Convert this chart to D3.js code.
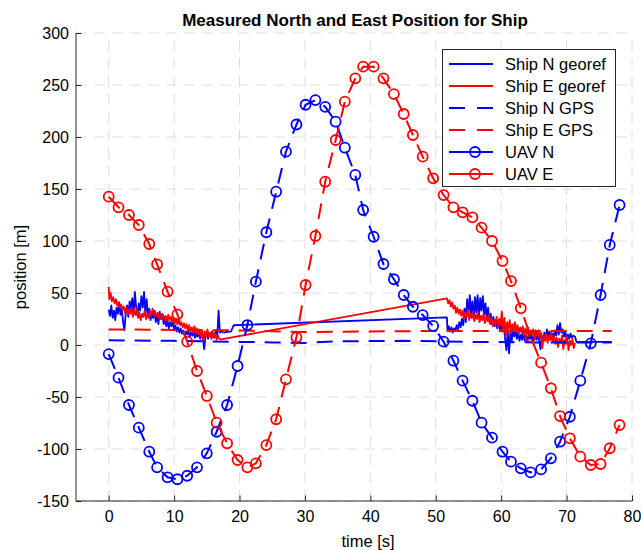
<!DOCTYPE html>
<html>
<head>
<meta charset="utf-8">
<script src="https://cdn.jsdelivr.net/npm/d3@7"></script>
<style>
  html, body { margin: 0; padding: 0; background: #fff; }
  svg { display: block; font-family: "Liberation Sans", Arial, Helvetica, sans-serif; }
</style>
</head>
<body>
<svg id="chart" width="641" height="550"></svg>
<script>
// ---------------- DATA ----------------
const chartTitle = "Measured North and East Position for Ship";
const xLabel = "time [s]";
const yLabel = "position [m]";
const xTicks = [0, 10, 20, 30, 40, 50, 60, 70, 80];
const yTicks = [-150, -100, -50, 0, 50, 100, 150, 200, 250, 300];
const seriesNames = ["Ship N georef", "Ship E georef", "Ship N GPS", "Ship E GPS", "UAV N", "UAV E"];

// Ship N georef  [time, value]
const shipNGeoref = [
  [0.0,34],[0.2,28],[0.4,38],[0.6,26],[0.8,33],[1.0,24],[1.2,36],[1.4,30],[1.6,41],[1.8,29],
  [2.0,35],[2.2,22],[2.4,14],[2.6,30],[2.8,38],[3.0,27],[3.2,42],[3.4,33],[3.6,45],[3.8,30],
  [4.0,51],[4.2,36],[4.4,28],[4.6,40],[4.8,33],[5.0,47],[5.2,36],[5.4,51],[5.6,30],[5.8,44],
  [6.0,28],[6.2,35],[6.4,24],[6.6,31],[6.8,26],[7.0,33],[7.2,22],[7.4,29],[7.6,20],[7.8,32],
  [8.0,25],[8.2,30],[8.4,20],[8.6,26],[8.8,18],[9.0,24],[9.2,16],[9.4,22],[9.6,18],[9.8,23],
  [10.0,15],[10.2,19],[10.4,13],[10.6,17],[10.8,12],[11.0,16],[11.2,11],[11.4,14],[11.6,9],[11.8,13],
  [12.0,10],[12.2,14],[12.4,8],[12.6,12],[12.8,9],[13.0,13],[13.2,7],[13.4,11],[13.6,8],[13.8,12],
  [14.0,6],[14.2,10],[14.4,7],[14.6,-4],[14.8,9],[15.0,12],[15.2,6],[15.4,11],[15.6,8],[15.8,13],
  [16.0,7],[16.2,10],[16.4,14],[16.6,9],[16.8,33],[17.0,12],[17.2,13],[17.6,12],[18.0,12.5],[18.7,13],
  [19.1,19],[51.7,26.6],
  [51.8,14],[52.0,18],[52.2,13],[52.4,17],[52.6,12],[52.8,16],[53.0,14],[53.2,19],[53.4,15],[53.6,22],
  [53.8,17],[54.0,25],[54.2,19],[54.4,35],[54.6,22],[54.8,44],[55.0,28],[55.2,48],[55.4,30],[55.6,42],
  [55.8,25],[56.0,46],[56.2,31],[56.4,48],[56.6,27],[56.8,45],[57.0,33],[57.2,47],[57.4,29],[57.6,40],
  [57.8,24],[58.0,36],[58.2,22],[58.4,30],[58.6,20],[58.8,27],[59.0,18],[59.2,24],[59.4,16],[59.6,22],
  [59.8,15],[60.0,20],[60.2,13],[60.4,18],[60.6,6],[60.8,-5],[61.0,14],[61.2,-8],[61.4,12],[61.6,3],
  [61.8,16],[62.0,8],[62.2,14],[62.4,6],[62.6,12],[62.8,4],[63.0,10],[63.2,5],[63.4,13],[63.6,4],
  [63.8,9],[64.0,3],[64.2,11],[64.4,6],[64.6,12],[64.8,3],[65.0,8],[65.2,14],[65.4,5],[65.6,10],
  [65.8,4],[66.0,-4],[66.2,9],[66.4,5],[66.6,12],[66.8,7],[67.0,15],[67.2,8],[67.4,13],[67.6,5],
  [67.8,11],[68.0,7],[68.2,14],[68.4,9],[68.6,19],[68.8,10],[69.0,21],[69.2,12],[69.4,15],[69.6,8],
  [69.8,13],[70.0,5],[70.2,10],[70.4,6],[70.6,11],[70.8,7],[71.0,9],[71.3,8],[71.5,3],[76.9,3]
];

// Ship E georef  [time, value]
const shipEGeoref = [
  [0.0,56],[0.1,44],[0.3,50],[0.5,42],[0.7,46],[0.9,40],[1.1,44],[1.3,38],[1.5,41],[1.7,36],
  [1.9,39],[2.1,34],[2.3,37],[2.5,31],[2.7,36],[2.9,29],[3.1,34],[3.3,30],[3.5,36],[3.7,27],
  [3.9,33],[4.1,29],[4.3,35],[4.5,26],[4.7,31],[4.9,24],[5.1,30],[5.3,27],[5.5,33],[5.7,25],
  [5.9,30],[6.1,26],[6.3,33],[6.5,28],[6.7,35],[6.9,29],[7.1,32],[7.3,27],[7.5,31],[7.7,26],
  [7.9,30],[8.1,25],[8.3,29],[8.5,24],[8.7,28],[8.9,23],[9.1,29],[9.3,24],[9.5,27],[9.7,22],
  [9.9,26],[10.1,21],[10.3,25],[10.5,20],[10.7,24],[10.9,19],[11.1,22],[11.3,17],[11.5,21],[11.7,16],
  [11.9,20],[12.1,14],[12.3,19],[12.5,13],[12.7,17],[12.9,12],[13.1,18],[13.3,11],[13.5,16],[13.7,10],
  [13.9,15],[14.1,8],[14.3,14],[14.5,4],[14.7,13],[14.9,9],[15.1,15],[15.3,8],[15.5,12],[15.7,6],
  [15.9,13],[16.1,7],[16.3,11],[16.5,5],[16.7,9],[16.9,6],[17.2,5.5],[51.7,44.9],
  [51.9,40],[52.1,43],[52.3,37],[52.5,41],[52.7,35],[52.9,38],[53.1,31],[53.3,36],[53.5,30],[53.7,34],
  [53.9,28],[54.1,33],[54.3,25],[54.5,31],[54.7,27],[54.9,34],[55.1,24],[55.3,30],[55.5,26],[55.7,32],
  [55.9,23],[56.1,29],[56.3,25],[56.5,31],[56.7,22],[56.9,28],[57.1,24],[57.3,30],[57.5,21],[57.7,27],
  [57.9,23],[58.1,29],[58.3,20],[58.5,26],[58.7,18],[58.9,24],[59.1,20],[59.3,27],[59.5,17],[59.7,25],
  [59.9,19],[60.1,32],[60.3,14],[60.5,26],[60.7,8],[60.9,22],[61.1,15],[61.3,24],[61.5,12],[61.7,20],
  [61.9,14],[62.1,22],[62.3,13],[62.5,19],[62.7,11],[62.9,17],[63.1,12],[63.3,18],[63.5,9],[63.7,16],
  [63.9,11],[64.1,17],[64.3,8],[64.5,14],[64.7,10],[64.9,15],[65.1,7],[65.3,13],[65.5,9],[65.7,14],
  [65.9,6],[66.1,12],[66.3,-3],[66.5,10],[66.7,4],[66.9,11],[67.1,2],[67.3,9],[67.5,5],[67.7,12],
  [67.9,3],[68.1,8],[68.3,1],[68.5,7],[68.7,-2],[68.9,6],[69.1,2],[69.3,9],[69.5,-4],[69.7,5],
  [69.9,1],[70.1,8],[70.3,-5],[70.5,4],[70.7,0],[70.9,6],[71.1,-3],[71.3,2]
];

// Ship N GPS  [time, value]
const shipNGPS = [[0,4.5],[10,4],[20,3],[25,2.5],[30,2],[35,3.5],[45,4],[55,3],[65,2.5],[76.9,2.5]];
// Ship E GPS  [time, value]
const shipEGPS = [[0,15],[20,14],[30,12.5],[40,13],[50,13.5],[60,13.5],[76.9,13.5]];

// UAV samples
const uavTime = [0,1.5,3.1,4.6,6.2,7.4,9.0,10.5,12.0,13.5,15.0,16.5,18.1,19.7,21.2,22.5,24.1,25.6,27.1,28.7,
  30.1,31.6,33.1,34.7,36.1,37.7,38.9,40.5,42.0,43.6,45.1,46.5,48.0,49.6,51.2,52.7,54.1,55.6,57.0,58.6,
  60.2,61.5,63.0,64.5,66.1,67.6,69.0,70.5,72.1,73.7,75.2,76.6,78.1];
const uavN = [-8.7,-31.4,-57.7,-79.5,-102.6,-117.6,-127.2,-129.1,-125.7,-117.6,-104.2,-83.4,-57.7,-20.2,19.2,60.9,108.4,147.4,185.9,212,
  231,235.5,229,214.7,189.7,163.5,129.8,104.1,77.9,63.2,48.1,36.8,28.8,18.3,3.2,-15.1,-34.3,-53.6,-74.7,-89.1,
  -102.6,-112.2,-118.6,-122.5,-119.6,-109,-93,-69,-34.3,1.6,48.1,96.2,134.6];
const uavE = [142.6,132.4,125,115.4,97.1,77.6,51.3,29.5,3.2,-25,-49,-74.7,-94.5,-110.6,-117.6,-113.8,-96.2,-71.4,-33,7.4,
  57.7,104.8,157,197.1,234,256.4,267.6,267.6,256.4,241.3,222.1,201.9,181.1,160.3,144.2,132.4,127.6,122.8,112.8,100,
  80.8,61.5,35.3,8,-17,-41.6,-68.3,-89.7,-107.4,-115.4,-114.4,-99.3,-76.9];

// ---------------- CHART ----------------
const BLUE = "#0000ff", RED = "#ff0000", AX = "#262626";
const svg = d3.select("#chart");
const L = 76, R = 632, T = 33, B = 501;
const x = d3.scaleLinear().domain([-5, 80]).range([L, R]);
const y = d3.scaleLinear().domain([-150, 300]).range([B, T]);

// grid
const grid = svg.append("g").attr("stroke", "#dedede").attr("stroke-width", 1).attr("stroke-dasharray", "11,7").attr("fill", "none");
grid.selectAll("line.v").data(xTicks).join("line")
  .attr("x1", d => x(d)).attr("x2", d => x(d)).attr("y1", B).attr("y2", T);
grid.selectAll("line.h").data(yTicks).join("line")
  .attr("y1", d => y(d)).attr("y2", d => y(d)).attr("x1", L).attr("x2", R);

const line = d3.line().x(d => x(d[0])).y(d => y(d[1]));
const plot = svg.append("g");

const DASH = "16,10";
plot.append("path").datum(shipNGeoref).attr("d", line).attr("fill", "none").attr("stroke", BLUE).attr("stroke-width", 1.8).attr("stroke-linejoin", "round");
plot.append("path").datum(shipEGeoref).attr("d", line).attr("fill", "none").attr("stroke", RED).attr("stroke-width", 1.8).attr("stroke-linejoin", "round");
plot.append("path").datum(shipNGPS).attr("d", line).attr("fill", "none").attr("stroke", BLUE).attr("stroke-width", 2).attr("stroke-dasharray", DASH);
plot.append("path").datum(shipEGPS).attr("d", line).attr("fill", "none").attr("stroke", RED).attr("stroke-width", 2).attr("stroke-dasharray", DASH);

function uavSeries(vals, color) {
  const pts = uavTime.map((t, i) => [t, vals[i]]);
  plot.append("path").datum(pts).attr("d", line).attr("fill", "none").attr("stroke", color).attr("stroke-width", 2).attr("stroke-dasharray", DASH);
  plot.append("g").selectAll("circle").data(pts).join("circle")
    .attr("cx", d => x(d[0])).attr("cy", d => y(d[1])).attr("r", 5)
    .attr("fill", "none").attr("stroke", color).attr("stroke-width", 1.8);
}
uavSeries(uavN, BLUE);
uavSeries(uavE, RED);

// axes (hyphen-minus labels like the reference)
const fmt = d => String(d);
const xAxis = d3.axisBottom(x).tickValues(xTicks).tickFormat(fmt).tickSizeInner(-5.5).tickSizeOuter(0).tickPadding(10);
const yAxis = d3.axisLeft(y).tickValues(yTicks).tickFormat(fmt).tickSizeInner(-5.5).tickSizeOuter(0).tickPadding(7);
const gx = svg.append("g").attr("transform", `translate(0,${B})`).call(xAxis);
const gy = svg.append("g").attr("transform", `translate(${L},0)`).call(yAxis);
[gx, gy].forEach(g => {
  g.select(".domain").attr("stroke", AX).attr("stroke-width", 1);
  g.selectAll(".tick line").attr("stroke", AX).attr("stroke-width", 1);
  g.selectAll(".tick text").attr("fill", "#000").attr("font-size", "16px")
    .attr("font-family", "'Liberation Sans', Arial, Helvetica, sans-serif");
});
gx.select(".domain").attr("d", `M${L},0H${R}`);
gy.select(".domain").attr("d", `M0,${B}V${T}`);

// labels
svg.append("text").attr("x", 355).attr("y", 20).attr("dy", "0.35em").attr("text-anchor", "middle")
  .attr("font-size", "17px").attr("font-weight", "bold").attr("fill", "#000").text(chartTitle);
svg.append("text").attr("x", 368).attr("y", 541).attr("dy", "0.35em").attr("text-anchor", "middle")
  .attr("font-size", "16.5px").attr("fill", "#000").text(xLabel);
svg.append("text").attr("transform", `translate(20,${(T + B) / 2}) rotate(-90)`).attr("dy", "0.35em")
  .attr("text-anchor", "middle").attr("font-size", "16.5px").attr("fill", "#000").text(yLabel);

// legend
const legendStyles = [
  {color: BLUE, dash: null, marker: false},
  {color: RED, dash: null, marker: false},
  {color: BLUE, dash: "16,12", marker: false},
  {color: RED, dash: "16,12", marker: false},
  {color: BLUE, dash: null, marker: true},
  {color: RED, dash: null, marker: true}
];
const lg = svg.append("g");
lg.append("rect").attr("x", 442.5).attr("y", 49.5).attr("width", 173).attr("height", 137)
  .attr("fill", "#fff").attr("stroke", AX).attr("stroke-width", 1);
seriesNames.forEach((name, i) => {
  const cy = 64 + i * 22;
  const s = legendStyles[i];
  lg.append("line").attr("x1", 449).attr("x2", 493).attr("y1", cy).attr("y2", cy)
    .attr("stroke", s.color).attr("stroke-width", 2).attr("stroke-dasharray", s.dash);
  if (s.marker) lg.append("circle").attr("cx", 475).attr("cy", cy).attr("r", 5)
    .attr("fill", "none").attr("stroke", s.color).attr("stroke-width", 1.8);
  lg.append("text").attr("x", 505).attr("y", cy).attr("dy", "0.35em").attr("font-size", "16.5px")
    .attr("fill", "#000").text(name);
});
</script>
</body>
</html>
